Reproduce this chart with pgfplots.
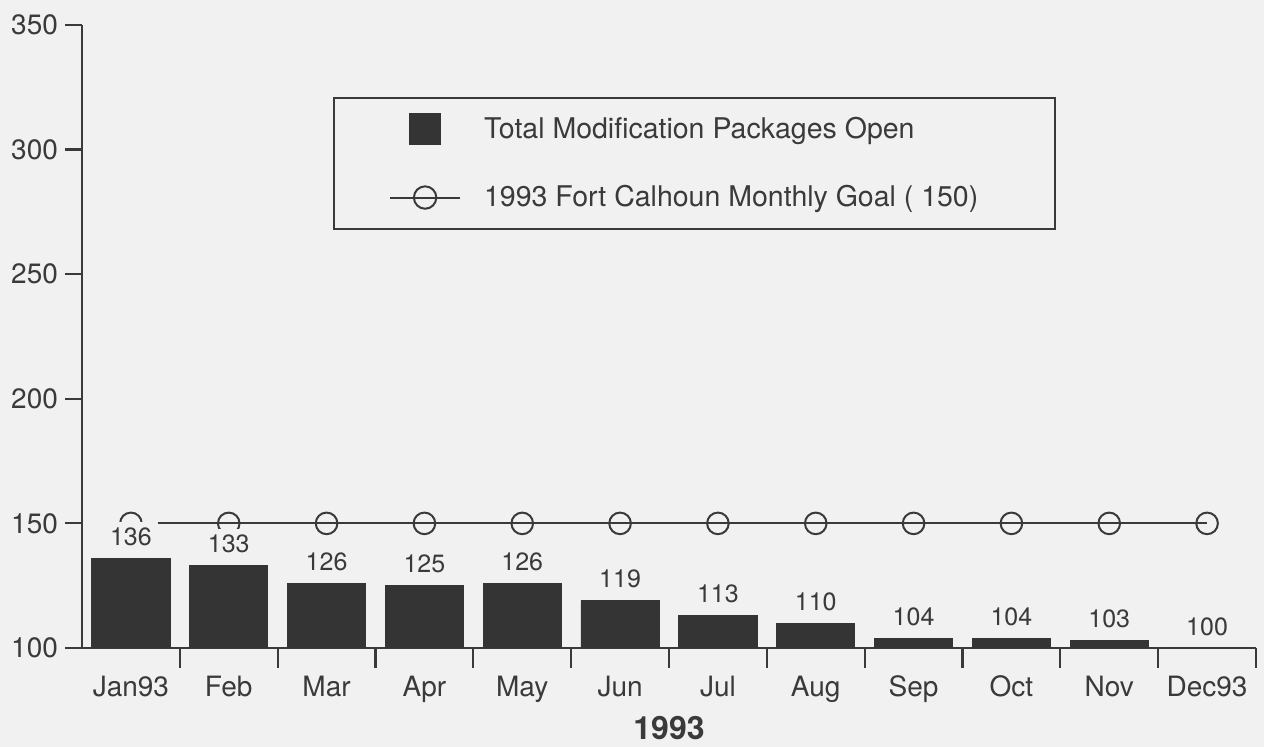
\documentclass[border=0pt]{standalone}
\usepackage{fontspec}
\setmainfont{TeX Gyre Heros}
\usepackage{pgfplots}
\usepackage{pgfplotstable}
\pgfplotsset{compat=1.18}

\definecolor{bg}{RGB}{241,241,241}
\definecolor{ink}{RGB}{58,58,58}
\definecolor{barfill}{RGB}{52,52,52}

% open modification packages per month (0 = Jan93 ... 11 = Dec93)
\pgfplotstableread{
x val
0 136
1 133
2 126
3 125
4 126
5 119
6 113
7 110
8 104
9 104
10 103
11 100
}\modpacks

\pgfplotstableread{
x goal
0 150
1 150
2 150
3 150
4 150
5 150
6 150
7 150
8 150
9 150
10 150
11 150
}\goalline

\begin{document}
\begin{tikzpicture}
\fill[bg, use as bounding box] (-41pt,-49.5pt) rectangle (591pt,324pt);
\begin{axis}[
    at={(0pt,0pt)}, anchor=south west,
    scale only axis, width=587pt, height=311.5pt,
    axis x line*=bottom, axis y line*=left,
    axis line style={ink, line width=1.1pt},
    xmin=-0.5, xmax=11.5, ymin=100, ymax=350,
    ytick={100,150,...,350},
    xtick={0,...,11},
    xticklabels={Jan93,Feb,Mar,Apr,May,Jun,Jul,Aug,Sep,Oct,Nov,Dec93},
    minor xtick={0.5,1.5,...,11.5},
    tick align=outside,
    major tick length=8.5pt, minor tick length=10pt,
    tick style={ink, line width=1.1pt},
    major x tick style={draw=none},
    ticklabel style={font=\fontsize{14}{16}\selectfont, text=ink},
    xticklabel style={yshift=-2pt},
    /pgf/number format/assume math mode=true,
    xlabel={1993},
    xlabel style={font=\bfseries\fontsize{16}{18}\selectfont, text=ink,
        at={(axis description cs:0.5,0)}, anchor=center, yshift=-40pt},
    legend style={at={(rel axis cs:0.2138,0.8844)}, anchor=north west,
        draw=ink, line width=1.1pt, fill=bg, text=ink,
        inner xsep=27.5pt, inner ysep=7.5pt, row sep=18pt,
        font=\fontsize{14.25}{16}\selectfont},
    legend cell align=left,
    reverse legend,
]
\addplot[ink, line width=1pt, mark=o, mark size=5.4pt,
    legend image code/.code={
        \draw[ink, line width=1pt] (0pt,0pt) -- (35pt,0pt);
        \draw[ink, line width=1pt] (17.5pt,0pt) circle (5.6pt);
        \path[draw=none, fill=none] (0pt,0pt) -- (45pt,0pt);
    }] table[x=x, y=goal] {\goalline};
\addlegendentry{1993 Fort Calhoun Monthly Goal ( 150)\hspace*{9pt}}

\addplot[ybar, bar width=0.8, fill=barfill, draw=barfill,
    nodes near coords,
    nodes near coords style={font=\fontsize{12.5}{14}\selectfont, text=ink,
        fill=bg, inner sep=3pt, yshift=3pt},
    legend image code/.code={
        \fill[barfill, draw=none] (9.5pt,-8pt) rectangle (25.5pt,8pt);
        \path[draw=none, fill=none] (0pt,0pt) -- (45pt,0pt);
    }] table[x=x, y=val] {\modpacks};
\addlegendentry{Total Modification Packages Open}
\end{axis}
\end{tikzpicture}
\end{document}
